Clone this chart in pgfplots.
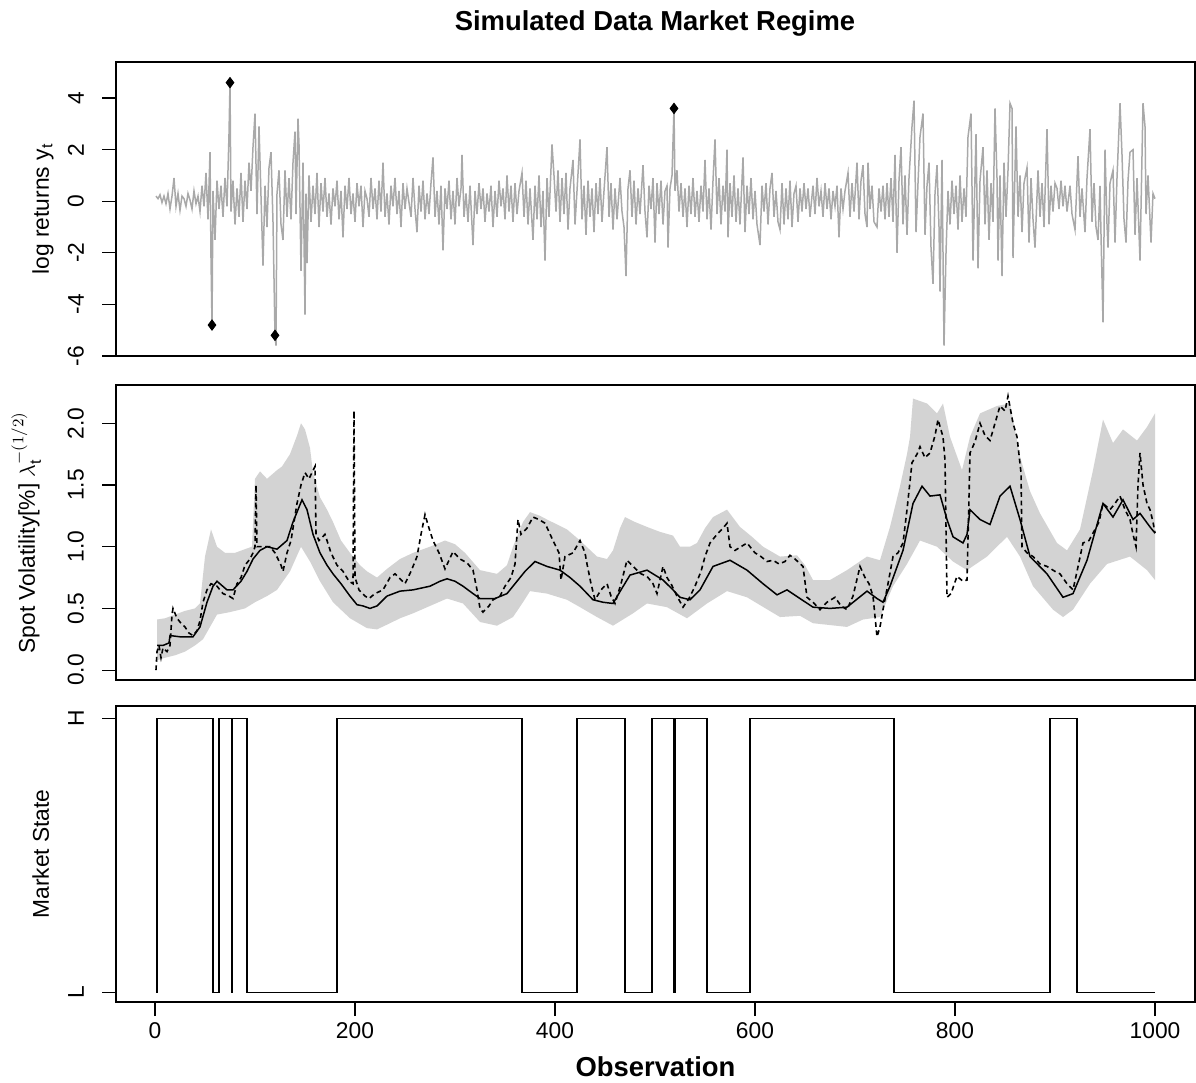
\documentclass[border=0pt]{standalone}
\usepackage{fontspec}
\setmainfont{Liberation Sans}
\usepackage{pgfplots}
\pgfplotsset{compat=1.18}
\usepgfplotslibrary{fillbetween}
\definecolor{retgray}{HTML}{A9A9A9}
\definecolor{bandgray}{HTML}{D3D3D3}
\newcommand{\basefont}{\fontsize{11.4bp}{13bp}\selectfont}
\newcommand{\bigfont}{\fontsize{13.7bp}{16bp}\selectfont\bfseries}
\pgfplotsset{
  panel/.style={
    scale only axis, width=539.5bp,
    xmin=-39, xmax=1040,
    axis line style={black, line width=0.75bp},
    tick style={black, line width=0.6bp},
    major tick length=7bp,
    tick align=outside,
    tick pos=left,
    xtick=\empty,
    tick label style={font=\basefont},
    yticklabel style={xshift=-5.5bp, rotate=90, anchor=south},
    label style={font=\basefont},
    clip=true,
  },
}
\begin{document}
\begin{tikzpicture}
\path (0,0) rectangle (598bp,-540.5bp);
\node[font=\bigfont] at (327.5bp,-11.5bp) {Simulated Data Market Regime};
% ---------------- top panel
\begin{axis}[panel, at={(58bp,-31bp)}, anchor=north west, height=147bp,
  ymin=-6.0, ymax=5.4, ytick={-6,-4,-2,0,2,4}, yticklabels={-6,-4,-2,0,2,4},
  ylabel={log returns y\textsubscript{t}},
  ylabel style={at={(axis description cs:-0.0621,0.5)}, anchor=base}]
\addplot[retgray, line width=0.75bp] coordinates {
(1,0.2)(3,0.1)(5,0.25)(7,-0.05)(9,0.2)(11,-0.1)(13,0.3)(15,-0.3)(17,0.2)(19,0.9)(21,-0.2)(23,0.3)(25,-0.35)(27,0.2)(29,0.1)(31,-0.2)(33,0.3)(35,0.05)(37,-0.3)(39,0.4)(41,-0.1)(43,0.2)(45,-0.4)(47,0.6)(49,-0.2)(51,1.1)(53,-0.7)(55,1.9)(56,-2.2)(57,-4.8)(58,0.4)(60,-1.5)(62,0.8)(64,-0.3)(66,0.6)(68,-0.6)(70,0.9)(72,-0.2)(74,2.6)(75,4.6)(76,-0.4)(78,0.8)(80,-0.9)(82,0.5)(84,-0.6)(86,1.1)(88,-0.8)(90,0.8)(92,-0.3)(94,1.5)(96,0.4)(98,2.1)(100,3.4)(102,-0.5)(104,2.9)(106,0.2)(108,-2.5)(110,0.6)(112,-1.0)(114,1.3)(116,1.9)(118,-0.8)(120,-5.2)(121,-5.6)(122,0.3)(124,1.2)(126,-0.9)(128,-1.5)(130,1.2)(132,-0.6)(134,0.9)(136,-0.7)(138,1.5)(140,2.7)(141,-0.5)(143,3.2)(144,2.2)(146,-2.7)(148,1.5)(150,-4.4)(151,0.3)(152,-2.4)(154,1.0)(156,-0.8)(158,0.6)(160,-0.5)(162,1.1)(164,-1.0)(166,0.7)(168,-0.4)(170,0.9)(172,-0.6)(174,0.3)(176,-0.9)(178,0.5)(180,-0.2)(182,0.8)(184,-0.7)(186,0.4)(188,-1.4)(190,0.6)(192,-0.3)(194,0.9)(196,-0.5)(198,0.3)(200,-0.8)(202,0.7)(204,-0.2)(206,0.6)(208,-1.0)(210,0.4)(212,0.1)(214,-0.6)(216,0.9)(218,-0.3)(220,0.5)(222,-0.7)(224,0.8)(226,-0.4)(228,1.5)(230,-0.6)(232,0.3)(234,-0.9)(236,0.6)(238,-0.2)(240,0.9)(242,-0.5)(244,0.4)(246,-1.0)(248,0.7)(250,-0.3)
(252,0.5)(256,-0.6)(258,0.9)(260,-0.3)(262,-1.2)(264,0.6)(266,-0.4)(268,0.8)(270,-0.7)(272,0.3)(274,-0.5)(276,0.7)(278,1.7)(280,-0.6)(282,0.4)(284,-0.9)(286,0.6)(288,-1.9)(290,0.5)(292,-0.3)(294,0.8)(296,-0.7)(298,0.4)(300,-0.9)(302,0.9)(304,-0.2)(306,0.5)(307,1.8)(309,-0.6)(311,0.3)(313,-0.8)(315,0.6)(318,-1.7)(320,0.4)(322,-0.5)(324,0.7)(326,-0.3)(328,0.5)(330,-0.8)(332,0.3)(334,-0.4)(336,0.6)(338,-1.0)(340,0.4)(342,-0.6)(344,0.8)(346,-0.2)(348,0.5)(350,-0.7)(352,1.0)(354,-0.4)(356,0.6)(358,-0.8)(360,0.7)(362,-0.5)(364,0.4)(367,1.1)(369,-0.6)(371,0.8)(373,-0.9)(375,0.5)(378,-1.5)(380,0.6)(382,-0.7)(384,1.0)(386,-1.0)(388,0.4)(390,-2.3)(392,0.9)(394,-0.6)(397,2.2)(399,1.0)(401,-0.4)(403,1.2)(405,-0.8)(407,0.9)(409,-0.5)(411,1.1)(413,-1.1)(415,0.5)(418,1.6)(420,-0.9)(422,0.4)(425,2.4)(427,-0.7)(429,0.6)(431,-1.3)(433,0.8)(435,-0.6)(437,0.5)(439,-1.2)(441,0.7)(443,-0.5)(445,0.9)(447,-0.8)(449,0.4)(452,2.1)(454,-0.6)(456,0.7)(458,-1.1)(460,0.5)(462,-0.7)(465,0.9)(467,-0.4)(469,-1.0)(471,-2.9)(473,0.5)(475,1.2)(477,-0.6)(479,0.8)(481,-0.9)(483,0.5)(485,-0.5)(488,1.4)(490,-0.4)(492,-1.4)(494,0.6)(496,-0.3)(498,0.9)(500,-1.6)(502,0.7)(504,-0.5)(506,0.8)(508,-0.9)(510,0.4)(512,0.6)(513,-1.8)(515,0.5)(517,1.0)(519,3.6)(520,0.4)(522,1.2)(524,-0.4)(526,0.7)(528,-0.6)(530,0.5)(532,-1.0)(534,0.6)(536,-0.5)(538,0.9)(540,-0.6)(542,0.4)(544,-0.8)(546,0.6)(548,-0.4)(550,1.6)(552,-0.7)(554,0.5)(556,-1.1)(558,0.8)(560,2.4)(562,-0.5)(564,0.9)(566,-0.9)(568,0.6)(570,-0.4)(572,2.0)(573,-1.4)(575,0.7)(577,-0.6)(579,1.0)(581,-0.8)(583,0.5)(585,-0.9)(588,1.7)(590,-1.2)(592,0.6)(594,-0.5)(596,0.9)(598,-0.7)(600,0.4)(602,-0.9)(605,-1.7)(607,0.6)(609,-0.4)(611,0.7)(613,-0.9)(615,0.5)(617,1.1)(619,-0.6)(621,0.4)(623,-0.8)(625,-1.1)(627,0.7)(629,-0.9)(631,0.5)(633,-0.7)(635,0.8)(637,-1.0)(639,0.3)(641,0.6)(643,-0.8)(645,0.5)(647,-0.4)(649,0.7)(651,-0.3)(653,0.5)(655,-0.6)(658,0.6)(660,-0.5)(662,0.9)(664,-0.2)(666,0.4)(668,-0.6)(670,0.7)(672,-0.3)(674,0.5)(676,-0.7)(678,0.4)(680,-0.2)(682,0.6)(684,-1.4)(686,0.5)(688,-0.3)(690,0.4)(693,1.1)(695,-0.6)(697,0.7)(699,-0.4)(702,1.5)(704,-0.7)(706,0.8)(708,1.4)(710,-0.5)(712,-1.0)(713,1.5)(715,-0.3)(717,0.6)(719,-0.8)(722,-1.0)(724,0.5)(726,-0.4)(728,0.6)(730,-0.7)(732,0.7)(734,-0.6)(736,0.9)(738,-0.8)(740,1.8)(742,-2.0)(744,0.8)(746,2.1)(748,-0.9)(750,1.0)(752,-1.3)(754,0.9)(757,2.9)(759,3.9)(761,-1.2)(763,0.7)(765,2.5)(768,3.4)(770,-1.3)(772,0.6)(774,1.5)(776,-1.8)(778,-3.2)(780,0.3)(782,1.4)(784,-1.0)(785,-3.5)(787,1.6)(789,-5.6)(791,-2.0)(793,0.4)(795,-0.9)(797,0.8)(799,-0.5)(801,0.6)(803,-1.1)(805,1.0)(807,-0.8)(809,0.5)(811,-0.6)(813,2.5)(816,3.4)(818,-2.3)(821,2.6)(823,-2.6)(825,0.8)(828,2.1)(830,-0.9)(832,1.2)(834,-1.5)(836,0.7)(838,-0.8)(840,3.6)(842,0.9)(843,-2.3)(845,1.0)(847,-2.9)(849,1.5)(851,-0.6)(853,1.2)(855,3.8)(857,3.6)(858,-2.2)(861,2.9)(863,-0.6)(865,1.0)(867,-1.2)(869,0.7)(872,1.3)(874,-1.6)(876,0.9)(878,-0.7)(880,-1.8)(883,1.2)(885,-0.6)(887,0.7)(889,-1.0)(892,2.8)(894,-0.9)(896,0.6)(898,-0.4)(900,0.7)(902,0.5)(904,-0.3)(906,0.8)(908,-0.2)(910,0.6)(912,-0.4)(915,0.6)(917,-0.5)(920,-1.1)(923,1.75)(925,-0.6)(927,0.5)(930,-1.2)(932,0.9)(935,2.8)(937,-0.8)(939,0.7)(941,-1.0)(943,-1.5)(945,0.6)(946,-1.3)(948,-4.7)(950,2.0)(952,-0.9)(953,-1.8)(955,0.7)(958,1.2)(960,-1.6)(962,0.9)(965,3.8)(967,1.8)(969,-0.7)(971,-1.6)(973,0.8)(975,1.9)(978,2.0)(980,-1.3)(982,0.9)(985,-2.3)(988,3.8)(990,2.9)(991,-0.5)(993,1.0)(996,-1.6)(998,0.3)(1000,0.1)
};
\addplot[only marks, mark=diamond*, mark size=2.6bp, black] coordinates {(57,-4.8)(75,4.6)(120,-5.2)(519,3.6)};
\end{axis}
% ---------------- middle panel
\begin{axis}[panel, at={(58bp,-192.5bp)}, anchor=north west, height=147.5bp,
  ymin=-0.08, ymax=2.31, ytick={0,0.5,1,1.5,2}, yticklabels={0.0,0.5,1.0,1.5,2.0},
  ylabel={Spot Volatility[\%] $\lambda_{\mathrm{t}}^{-(1/2)}$},
  ylabel style={at={(axis description cs:-0.0751,0.5)}, anchor=base}]
\addplot[name path=U, draw=none] coordinates {
(2,0.41)(10,0.42)(20,0.45)(30,0.48)(40,0.5)(45,0.54)(50,0.92)(56,1.14)(62,1.0)(70,0.95)(80,0.95)(90,0.98)(97,1.0)(100,1.55)(105,1.61)(112,1.55)(122,1.62)(127,1.65)(135,1.75)(142,1.9)(146,2.0)(150,1.95)(155,1.8)(158,1.6)(165,1.4)(172,1.3)(178,1.2)(186,1.05)(195,0.95)(205,0.85)(212,0.8)(222,0.75)(232,0.82)(245,0.9)(258,0.95)(275,1.0)(290,1.05)(300,1.02)(310,0.95)(325,0.81)(342,0.78)(352,0.85)(358,1.0)(368,1.2)(375,1.28)(385,1.25)(392,1.22)(412,1.14)(425,1.05)(442,0.92)(452,0.9)(458,0.97)(465,1.15)(470,1.24)(480,1.2)(492,1.16)(505,1.12)(518,1.09)(525,1.0)(535,1.0)(542,1.03)(550,1.15)(558,1.24)(572,1.3)(585,1.16)(597,1.08)(608,1.0)(625,0.92)(642,0.93)(650,0.85)(658,0.73)(675,0.73)(692,0.81)(712,0.92)(725,0.89)(735,1.16)(745,1.49)(752,1.75)(755,1.89)(758,2.2)(772,2.16)(782,2.08)(788,2.16)(795,1.89)(807,1.62)(815,1.89)(825,2.08)(842,2.14)(855,2.16)(865,1.73)(875,1.45)(885,1.27)(902,1.03)(912,0.97)(925,1.14)(938,1.62)(948,2.03)(958,1.84)(968,1.95)(982,1.86)(992,1.97)(1000,2.08)
};
\addplot[name path=L, draw=none] coordinates {
(2,0.08)(10,0.1)(20,0.12)(30,0.15)(40,0.2)(48,0.25)(55,0.35)(62,0.45)(75,0.47)(90,0.5)(100,0.55)(112,0.6)(122,0.65)(135,0.8)(146,1.0)(155,0.88)(165,0.72)(178,0.55)(195,0.42)(212,0.34)(222,0.33)(235,0.38)(245,0.42)(258,0.46)(275,0.52)(292,0.58)(308,0.54)(325,0.39)(342,0.36)(358,0.43)(368,0.55)(375,0.64)(392,0.62)(412,0.57)(425,0.51)(442,0.43)(458,0.36)(478,0.46)(492,0.54)(512,0.51)(532,0.42)(552,0.54)(572,0.64)(592,0.59)(625,0.43)(645,0.44)(658,0.38)(692,0.35)(708,0.41)(725,0.43)(738,0.68)(752,0.86)(765,1.05)(782,1.0)(798,0.88)(812,0.81)(832,0.92)(852,1.08)(865,0.92)(878,0.68)(898,0.49)(908,0.43)(918,0.49)(935,0.7)(952,0.86)(975,0.92)(992,0.81)(1000,0.73)
};
\addplot[bandgray, draw=none] fill between[of=U and L];
\addplot[black, line width=0.75bp] coordinates {
(2,0.2)(8,0.2)(14,0.22)(15,0.28)(25,0.27)(38,0.27)(45,0.35)(52,0.55)(58,0.68)(62,0.72)(72,0.65)(78,0.65)(86,0.72)(92,0.8)(98,0.9)(105,0.97)(112,1.0)(122,0.98)(132,1.05)(138,1.2)(144,1.32)(147,1.38)(152,1.3)(158,1.1)(165,0.95)(172,0.85)(178,0.78)(186,0.7)(195,0.6)(202,0.53)(208,0.52)(215,0.5)(222,0.52)(232,0.6)(245,0.64)(258,0.65)(275,0.68)(285,0.72)(292,0.74)(300,0.72)(308,0.68)(318,0.62)(325,0.58)(340,0.58)(352,0.62)(362,0.72)(370,0.8)(380,0.88)(392,0.84)(405,0.81)(415,0.75)(425,0.68)(438,0.57)(448,0.55)(458,0.54)(466,0.65)(475,0.77)(492,0.81)(508,0.73)(518,0.65)(525,0.59)(535,0.57)(545,0.65)(558,0.84)(575,0.89)(592,0.81)(608,0.7)(622,0.61)(632,0.65)(645,0.58)(658,0.51)(675,0.5)(692,0.51)(712,0.64)(722,0.58)(728,0.55)(735,0.68)(748,0.97)(758,1.35)(767,1.49)(775,1.41)(785,1.42)(792,1.22)(798,1.08)(808,1.03)(812,1.1)(815,1.3)(825,1.22)(835,1.18)(845,1.41)(855,1.49)(865,1.22)(875,0.92)(892,0.78)(908,0.59)(918,0.62)(932,0.89)(948,1.35)(958,1.24)(968,1.38)(978,1.22)(985,1.27)(995,1.16)(1000,1.11)
};
\addplot[black, line width=0.8bp, dash pattern=on 2.4bp off 1.8bp] coordinates {
(1,0.0)(2,0.15)(4,0.2)(6,0.1)(8,0.18)(12,0.15)(15,0.2)(17,0.45)(18,0.5)(22,0.42)(26,0.38)(30,0.35)(34,0.3)(38,0.28)(42,0.32)(45,0.4)(48,0.55)(52,0.65)(56,0.7)(62,0.68)(68,0.62)(74,0.6)(78,0.58)(82,0.7)(86,0.75)(90,0.85)(95,0.9)(98,0.95)(100,1.0)(101,1.5)(102,1.0)(108,1.0)(115,1.0)(120,0.95)(126,0.85)(128,0.8)(132,0.95)(136,1.05)(140,1.25)(142,1.35)(146,1.5)(150,1.6)(154,1.55)(157,1.6)(160,1.65)(161,1.1)(164,1.05)(170,1.1)(176,0.95)(182,0.85)(188,0.8)(194,0.72)(198,0.7)(199,2.1)(200,0.75)(204,0.65)(210,0.6)(214,0.58)(220,0.62)(228,0.65)(235,0.75)(240,0.78)(250,0.7)(256,0.8)(262,0.92)(266,1.1)(270,1.26)(274,1.15)(278,1.05)(284,0.95)(290,0.82)(298,0.96)(305,0.9)(312,0.87)(318,0.81)(322,0.65)(325,0.5)(328,0.47)(334,0.52)(338,0.57)(345,0.6)(350,0.68)(356,0.75)(360,0.86)(363,1.22)(366,1.1)(372,1.15)(378,1.24)(384,1.22)(390,1.19)(398,1.05)(404,0.95)(406,0.73)(410,0.92)(418,0.95)(425,1.05)(430,0.95)(432,0.86)(436,0.7)(440,0.57)(446,0.65)(452,0.7)(456,0.6)(460,0.54)(466,0.7)(472,0.89)(478,0.84)(486,0.78)(492,0.76)(498,0.7)(502,0.62)(508,0.84)(512,0.75)(516,0.7)(522,0.6)(528,0.51)(534,0.58)(540,0.68)(546,0.8)(550,0.92)(555,1.03)(562,1.1)(568,1.15)(572,1.19)(575,1.0)(580,0.97)(586,1.0)(592,1.03)(600,0.95)(606,0.92)(612,0.88)(618,0.89)(624,0.86)(630,0.88)(635,0.93)(640,0.9)(648,0.84)(652,0.59)(658,0.55)(665,0.49)(672,0.55)(680,0.59)(686,0.52)(692,0.49)(698,0.6)(705,0.84)(710,0.75)(714,0.7)(718,0.6)(722,0.27)(725,0.35)(728,0.49)(733,0.7)(738,0.92)(743,0.95)(748,1.03)(752,1.3)(757,1.68)(762,1.75)(765,1.81)(770,1.72)(775,1.76)(780,1.9)(783,2.03)(788,1.89)(790,1.7)(792,0.59)(796,0.62)(802,0.76)(808,0.72)(812,0.73)(814,1.4)(815,1.76)(820,1.85)(825,2.0)(830,1.9)(835,1.86)(840,2.0)(845,2.14)(850,2.1)(853,2.22)(858,2.0)(862,1.89)(866,1.6)(867,1.0)(872,0.95)(878,0.92)(885,0.86)(892,0.84)(900,0.8)(905,0.78)(912,0.7)(918,0.65)(922,0.8)(928,1.03)(934,1.05)(938,1.11)(944,1.2)(948,1.35)(955,1.3)(960,1.35)(965,1.41)(970,1.3)(975,1.22)(978,1.1)(981,1.0)(983,1.5)(985,1.76)(988,1.5)(992,1.35)(995,1.3)(998,1.2)(1000,1.11)
};
\end{axis}
% ---------------- bottom panel
\begin{axis}[panel, at={(58bp,-353bp)}, anchor=north west, height=148bp,
  ymin=-0.035, ymax=1.045, ytick={0,1}, yticklabels={L,H},
  xtick={0,200,400,600,800,1000}, xticklabels={0,200,400,600,800,1000},
  ylabel={Market State},
  ylabel style={at={(axis description cs:-0.0621,0.5)}, anchor=base},
  xlabel={Observation},
  xlabel style={font=\bigfont, at={(axis description cs:0.5,0)}, anchor=base, yshift=-37bp}]
\addplot[black, line width=0.75bp] coordinates {
(1,0)(2,0)(2,1)(58,1)(58,0)(64,0)(64,1)(77,1)(77,0)(77.3,0)(77.3,1)(92,1)(92,0)(182,0)(182,1)(367,1)(367,0)(422,0)(422,1)(470,1)(470,0)(497,0)(497,1)(519,1)(519,0)(520.5,0)(520.5,1)(552,1)(552,0)(595,0)(595,1)(739,1)(739,0)(895,0)(895,1)(922,1)(922,0)(1000,0)
};
\end{axis}
\end{tikzpicture}
\end{document}
